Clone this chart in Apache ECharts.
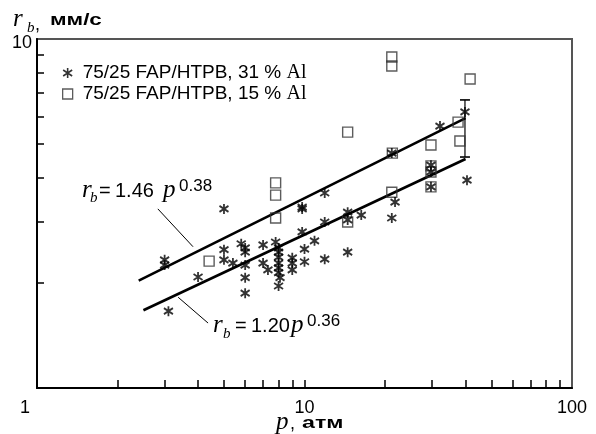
<!DOCTYPE html>
<html>
<head>
<meta charset="utf-8">
<script src="https://cdn.jsdelivr.net/npm/echarts@6/dist/echarts.min.js"></script>
<style>
  html, body { margin: 0; padding: 0; background: #fff; }
  #chart { width: 596px; height: 434px; }
</style>
</head>
<body>
<div id="chart"></div>
<script>
// 31 % Al — звёздочки [p, атм ; r_b, мм/с]
var al31 = [
  [3.0, 2.33], [3.0, 2.25], [3.1, 1.66],
  [4.0, 2.08],
  [5.0, 3.26], [5.0, 2.49], [5.0, 2.33], [5.4, 2.28],
  [5.8, 2.59], [6.0, 2.52], [6.0, 2.45], [6.0, 2.25], [6.0, 2.07], [6.0, 1.87],
  [7.0, 2.57], [7.0, 2.28], [7.3, 2.18],
  [7.8, 2.62], [8.0, 2.52], [8.0, 2.45], [8.0, 2.37], [8.0, 2.28], [8.0, 2.21], [8.0, 2.14], [8.1, 2.07], [8.0, 1.96],
  [9.0, 2.36], [9.0, 2.28], [9.0, 2.18],
  [9.8, 3.30], [9.8, 3.26], [9.8, 2.80], [10.0, 2.50], [10.0, 2.30],
  [10.9, 2.64],
  [11.9, 3.62], [11.9, 2.99], [11.9, 2.34],
  [14.5, 3.19], [14.5, 3.03], [14.5, 2.45],
  [16.3, 3.13],
  [21.2, 4.71], [21.8, 3.41], [21.2, 3.07],
  [29.7, 4.35], [29.7, 4.16], [29.7, 3.77],
  [32.1, 5.63],
  [39.8, 6.18], [40.5, 3.94]
];
// 15 % Al — квадраты
var al15 = [
  [21.2, 8.88], [21.2, 8.37], [41.6, 7.68], [14.5, 5.41],
  [7.8, 3.87], [7.8, 3.57], [7.8, 3.07], [4.4, 2.31],
  [21.3, 4.71], [29.7, 4.97], [38.1, 5.10], [37.5, 5.78],
  [29.7, 4.33], [29.7, 4.16], [29.7, 3.77], [21.2, 3.64], [14.5, 2.99]
];
// аппроксимации rb = 1.46 p^0.38 и rb = 1.20 p^0.36 (концы отрезков)
var fitUpper = [[2.4, 2.03], [40, 5.93]];
var fitLower = [[2.5, 1.67], [40, 4.53]];
var errBar = [[39.8, 4.59], [39.8, 6.69]];
// выноски к подписям
var leadUpper = [[2.83, 3.26], [3.83, 2.54]];
var leadLower = [[3.37, 1.82], [4.36, 1.535]];

var xTicks = [2, 3, 4, 5, 6, 7, 8, 9, 10, 20, 30, 40, 50, 60, 70, 80, 90];
var xLabels = [1, 10, 100];
var yTicks = [2, 3, 4, 5, 6, 7, 8, 9];
var yLabels = [10];

var name31 = '75/25 FAP/HTPB, 31 % Al';
var name15 = '75/25 FAP/HTPB, 15 % Al';

var starPath = 'path://M0,-10L0,10M-9,-6L9,6M-9,6L9,-6';
var sans = 'Liberation Sans';
var serif = 'Liberation Serif';

var chart = echarts.init(document.getElementById('chart'));

function it(txt, x, y, size, extra) {
  var st = { text: txt, x: 0, y: 0, fill: '#000', verticalAlign: 'middle',
    font: (extra && extra.font) || ('italic ' + size + 'px "' + serif + '"') };
  var el = { type: 'text', x: x, y: y, style: st, z: 10 };
  if (extra && extra.scaleX) el.scaleX = extra.scaleX;
  return el;
}
function sn(txt, x, y, size) {
  return it(txt, x, y, size, { font: size + 'px "' + sans + '"' });
}

var option = {
  animation: false,
  backgroundColor: '#fff',
  grid: { left: 37, right: 24, top: 39, bottom: 46, show: true, borderColor: '#555', borderWidth: 2 },
  legend: {
    orient: 'vertical', left: 57, top: 58, itemWidth: 10, itemHeight: 10, itemGap: 1,
    selectedMode: false,
    data: [
      { name: name31, icon: starPath, itemStyle: { color: 'rgba(0,0,0,0)', borderColor: '#000', borderWidth: 1.6 } },
      { name: name15, icon: 'rect', itemStyle: { color: 'rgba(0,0,0,0)', borderColor: '#333', borderWidth: 1.3 } }
    ],
    formatter: function (n) {
      return '{t|' + n.replace(' Al', ' ') + '}{s|Al}';
    },
    textStyle: {
      rich: {
        t: { fontFamily: sans, fontSize: 19, color: '#000', padding: [0, 0, 0, 5], lineHeight: 18 },
        s: { fontFamily: serif, fontSize: 20, color: '#000', lineHeight: 18 }
      }
    }
  },
  xAxis: {
    type: 'log', logBase: 10, min: 1, max: 100,
    axisLine: { lineStyle: { color: '#000', width: 2 } },
    axisTick: { inside: true, length: 8, customValues: xTicks, lineStyle: { color: '#000', width: 1.5 } },
    axisLabel: {
      customValues: xLabels, margin: 11, color: '#000', fontFamily: sans, fontSize: 18,
      formatter: function (v) { return v === 1 ? '{one|1}' : String(v); },
      rich: { one: { fontFamily: sans, fontSize: 18, color: '#000', padding: [0, 24, 0, 0] } }
    },
    splitLine: { show: false }
  },
  yAxis: {
    type: 'log', logBase: 10, min: 1, max: 10,
    axisLine: { lineStyle: { color: '#000', width: 2 } },
    axisTick: { inside: true, length: 7, customValues: yTicks, lineStyle: { color: '#000', width: 1.5 } },
    axisLabel: {
      customValues: yLabels, margin: 5, color: '#000', fontFamily: sans, fontSize: 18,
      formatter: function (v) { return '{a|' + v + '}'; },
      rich: { a: { fontFamily: sans, fontSize: 18, color: '#000', padding: [8, 0, 0, 0] } }
    },
    splitLine: { show: false }
  },
  series: [
    { type: 'line', data: fitUpper, symbol: 'none', lineStyle: { color: '#000', width: 2.6 }, z: 3 },
    { type: 'line', data: fitLower, symbol: 'none', lineStyle: { color: '#000', width: 2.6 }, z: 3 },
    { type: 'line', data: leadUpper, symbol: 'none', lineStyle: { color: '#000', width: 1 }, z: 3 },
    { type: 'line', data: leadLower, symbol: 'none', lineStyle: { color: '#000', width: 1 }, z: 3 },
    { type: 'line', data: errBar, symbol: 'rect', symbolSize: [10, 1.6], itemStyle: { color: '#000' },
      lineStyle: { color: '#000', width: 1.2 }, z: 3 },
    { name: name15, type: 'scatter', data: al15, symbol: 'rect', symbolSize: 10,
      itemStyle: { color: 'rgba(0,0,0,0)', borderColor: '#333', borderWidth: 1.4 }, z: 4 },
    { name: name31, type: 'scatter', data: al31, symbol: starPath, symbolSize: [9, 10],
      itemStyle: { color: 'rgba(0,0,0,0)', borderColor: '#000', borderWidth: 1.9 }, z: 5 }
  ],
  graphic: [
    // подпись оси Y
    it('r', 13, 19, 25),
    it('b', 27, 28, 15),
    sn(',', 35, 25, 18),
    it('мм/с', 50, 21, 16, { font: 'bold 16px "' + sans + '"', scaleX: 1.4 }),
    // подпись оси X
    it('p', 276, 422, 25),
    sn(',', 290, 424, 18),
    it('атм', 302, 424, 16, { font: 'bold 16px "' + sans + '"', scaleX: 1.45 }),
    // rb = 1.46 p^0.38
    it('r', 82, 190, 25),
    it('b', 90, 198, 15),
    sn('=', 99, 191, 20),
    sn('1.46', 115, 191, 20),
    it('p', 163, 190, 25),
    sn('0.38', 179, 186, 17),
    // rb = 1.20 p^0.36
    it('r', 213, 325, 25),
    it('b', 223, 334, 15),
    sn('=', 235, 326, 20),
    sn('1.20', 251, 326, 20),
    it('p', 291, 325, 25),
    sn('0.36', 307, 321, 17)
  ]
};
chart.setOption(option);
</script>
</body>
</html>
